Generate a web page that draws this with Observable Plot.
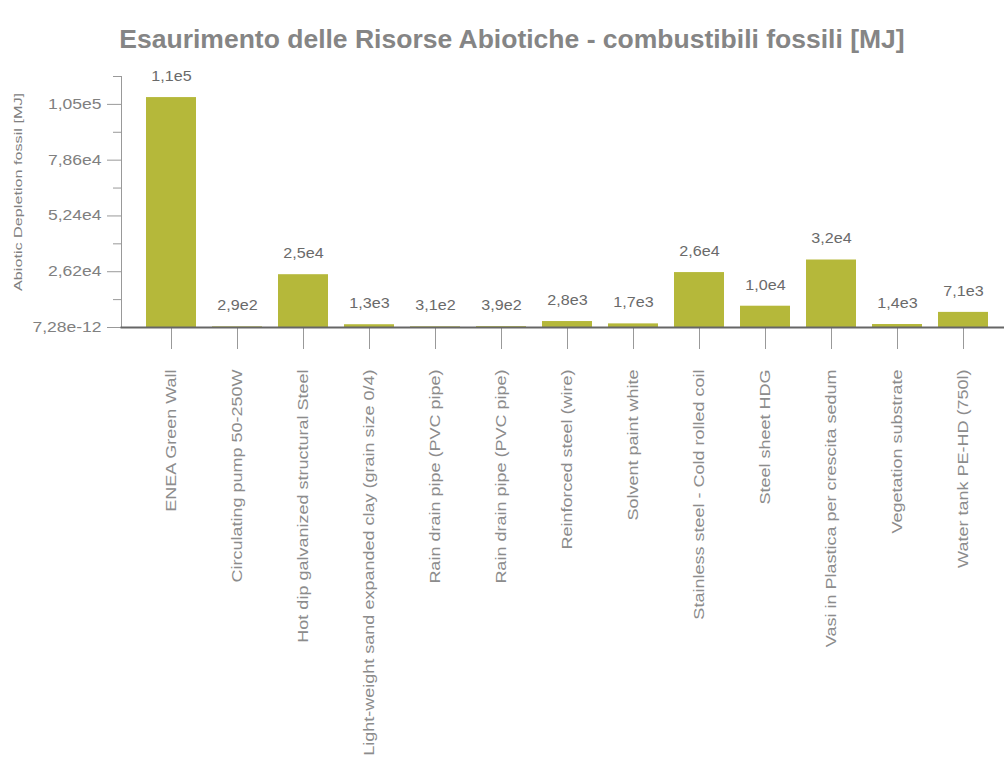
<!DOCTYPE html>
<html>
<head>
<meta charset="utf-8">
<script src="https://cdn.jsdelivr.net/npm/d3@7"></script>
<script src="https://cdn.jsdelivr.net/npm/@observablehq/plot@0.6"></script>
<style>
  html, body { margin: 0; padding: 0; background: #fff; }
  #title { box-sizing: border-box; width: 1004px; height: 60px; padding-top: 26px; padding-left: 20px;
    text-align: center; font: bold 26.5px "Liberation Sans", Arial, sans-serif; color: #858585; line-height: 26px; white-space: nowrap; }
</style>
</head>
<body>
<div id="title">Esaurimento delle Risorse Abiotiche - combustibili fossili [MJ]</div>
<div id="chart"></div>
<script>
const categories = [
  "ENEA Green Wall",
  "Circulating pump 50-250W",
  "Hot dip galvanized structural Steel",
  "Light-weight sand expanded clay (grain size 0/4)",
  "Rain drain pipe (PVC pipe)",
  "Rain drain pipe (PVC pipe)",
  "Reinforced steel (wire)",
  "Solvent paint white",
  "Stainless steel - Cold rolled coil",
  "Steel sheet HDG",
  "Vasi in Plastica per crescita sedum",
  "Vegetation substrate",
  "Water tank PE-HD (750l)"
];
const values = [108000, 290, 24800, 1300, 310, 390, 2800, 1700, 25800, 10000, 31700, 1400, 7100];
const yTicks = [0, 26200, 52400, 78600, 104800];
const yTickLabels = ["7,28e-12", "2,62e4", "5,24e4", "7,86e4", "1,05e5"];
const yMinorTicks = [13100, 39300, 65500, 91700, 117900];
const yLabel = "Abiotic Depletion fossil [MJ]";

const fmt = v => v.toExponential(1).replace(".", ",").replace("e+", "e");
const data = categories.map((c, i) => ({i, c, v: values[i]}));

const chart = Plot.plot({
  width: 1004,
  height: 700,
  marginTop: 16,
  marginBottom: 433,
  marginLeft: 121,
  marginRight: 0,
  style: {fontFamily: "Liberation Sans, Arial, sans-serif", background: "#fff"},
  x: {type: "band", domain: d3.range(categories.length), insetLeft: 16, insetRight: 6,
      paddingInner: 0.24, paddingOuter: 0.12, label: null},
  y: {domain: [0, 117900], label: null},
  marks: [
    Plot.barY(data, {x: "i", y: "v", fill: "#b5b83a"}),
    Plot.text(data, {x: "i", y: "v", text: d => fmt(d.v), dy: -21, lineAnchor: "middle", fill: "#6a6a6a",
      fontSize: 14, className: "vlab"}),
    Plot.axisY({ticks: yTicks, tickFormat: d => yTickLabels[yTicks.indexOf(d)], tickSize: 14, tickPadding: 6,
      stroke: "#999", fill: "#808080", fontSize: 14, label: null}),
    Plot.axisY({ticks: yMinorTicks, tickFormat: () => "", tickSize: 8, stroke: "#999", label: null}),
    Plot.frame({anchor: "left", stroke: "#999"}),
    Plot.axisX({tickSize: 22, tickPadding: 20, tickRotate: -90, tickFormat: i => categories[i],
      fontSize: 15, fill: "#8c8c8c", stroke: "#999", label: null}),
    Plot.frame({anchor: "bottom", stroke: "#666", strokeWidth: 2}),
    Plot.text([yLabel], {frameAnchor: "left", dx: -103, dy: -10, rotate: -90, textAnchor: "middle",
      fontSize: 11, fill: "#808080", className: "ylab"})
  ]
});
document.getElementById("chart").appendChild(chart);

// the reference's lettering is drawn wider than its height; stretch text along its run
function stretch(sel, k) {
  sel.each(function () {
    const L = this.getComputedTextLength();
    if (L > 0) d3.select(this).attr("textLength", L * k).attr("lengthAdjust", "spacingAndGlyphs");
  });
}
const svg = d3.select(chart);
svg.selectAll(".ylab text").attr("textLength", 198).attr("lengthAdjust", "spacingAndGlyphs");
stretch(svg.selectAll('g[aria-label="x-axis tick label"] text'), 1.2);
stretch(svg.selectAll('g[aria-label="y-axis tick label"] text'), 1.25);
stretch(svg.selectAll(".vlab text"), 1.15);
</script>
</body>
</html>
